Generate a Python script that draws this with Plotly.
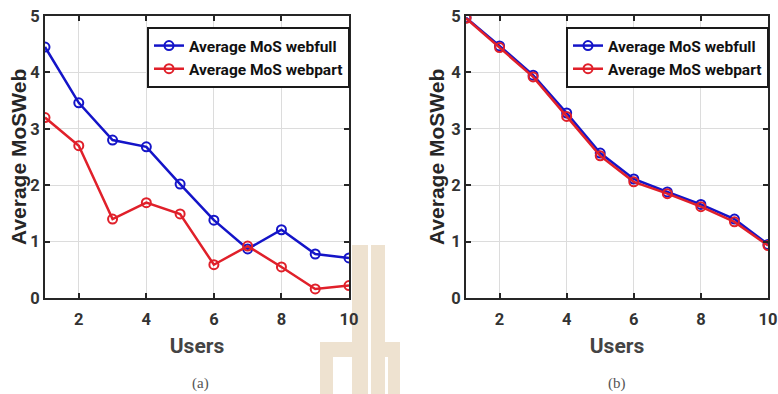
import plotly.graph_objects as go

# Number of users on the x axis
users = [1, 2, 3, 4, 5, 6, 7, 8, 9, 10]

# (a) average MoS per scheme
mos_webfull_a = [4.45, 3.46, 2.80, 2.68, 2.02, 1.38, 0.87, 1.21, 0.78, 0.71]
mos_webpart_a = [3.20, 2.70, 1.40, 1.69, 1.49, 0.59, 0.92, 0.55, 0.16, 0.22]

# (b) average MoS per scheme
mos_webfull_b = [4.97, 4.47, 3.95, 3.28, 2.57, 2.11, 1.88, 1.66, 1.40, 0.95]
mos_webpart_b = [4.96, 4.44, 3.92, 3.22, 2.52, 2.06, 1.85, 1.62, 1.35, 0.93]

x_ticks = [2, 4, 6, 8, 10]
y_ticks = [0, 1, 2, 3, 4, 5]
series_names = ["Average MoS webfull", "Average MoS webpart"]
panel_labels = ["(a)", "(b)"]
y_title = "Average MoSWeb"
x_title = "Users"

W, H = 778, 394
BLUE = "#1414C8"
RED = "#E0202A"
FRAME = "#262626"
NARROW = "Liberation Sans Narrow, Arial Narrow, Roboto, sans-serif"

fig = go.Figure()


def add_series(x, y, name, color, xaxis, yaxis, legend):
    fig.add_trace(go.Scatter(
        x=x, y=y, name=name, mode="lines+markers",
        line=dict(color=color, width=2.5),
        marker=dict(symbol="circle-open", size=9, color=color,
                    line=dict(width=2, color=color)),
        xaxis=xaxis, yaxis=yaxis, legend=legend,
    ))


add_series(users, mos_webfull_a, series_names[0], BLUE, "x", "y", "legend")
add_series(users, mos_webpart_a, series_names[1], RED, "x", "y", "legend")
add_series(users, mos_webfull_b, series_names[0], BLUE, "x2", "y2", "legend2")
add_series(users, mos_webpart_b, series_names[1], RED, "x2", "y2", "legend2")

tick_font = dict(family=NARROW, size=16.5, color="#333333", weight="bold")


def px_x(p):
    return p / W


def px_y(p):
    return 1 - p / H


xaxis_common = dict(
    range=[1, 10], tickvals=x_ticks, showgrid=True, gridcolor="#DCDCDC", gridwidth=1,
    showline=True, linecolor=FRAME, linewidth=2, mirror="ticks",
    ticks="inside", ticklen=5, tickwidth=1.5, tickcolor=FRAME,
    tickfont=tick_font, ticklabelstandoff=5,
    zeroline=False, automargin=False, fixedrange=True,
    title=dict(text=x_title, standoff=11,
               font=dict(family=NARROW, size=21, color="#444444", weight="bold")),
)
yaxis_common = dict(
    range=[0, 5], tickvals=y_ticks, showgrid=True, gridcolor="#DCDCDC", gridwidth=1,
    showline=True, linecolor=FRAME, linewidth=2, mirror="ticks",
    ticks="inside", ticklen=5, tickwidth=1.5, tickcolor=FRAME,
    tickfont=tick_font, zeroline=False, automargin=False, fixedrange=True,
)

legend_common = dict(
    bgcolor="white", bordercolor="#1A1A1A", borderwidth=2,
    font=dict(family=NARROW, size=15.5, color="#111111", weight="bold"),
    xanchor="left", yanchor="top", tracegroupgap=0, itemwidth=30,
)

# Watermark logo drawn behind everything
wm_color = "#EEE2D0"
wm_rects = [
    (320, 342, 333, 394),
    (320, 342, 367, 357),
    (352, 245, 368, 394),
    (371, 245, 385, 394),
    (371, 342, 400, 357),
    (388, 342, 400, 394),
]
shapes = [
    dict(type="rect", xref="paper", yref="paper",
         x0=px_x(a), x1=px_x(c), y0=px_y(d), y1=px_y(b),
         fillcolor=wm_color, line=dict(width=0), layer="below")
    for a, b, c, d in wm_rects
]

caption_font = dict(family="Liberation Serif, serif", size=15, color="#555555")
ytitle_font = dict(family="Liberation Sans, Arial, sans-serif", size=21,
                   color="#262626", weight="bold")


def text_at(text, x, y, font, angle=0):
    return dict(text=text, x=px_x(x), y=px_y(y), xref="paper", yref="paper",
                showarrow=False, font=font, textangle=angle,
                xanchor="center", yanchor="middle")


fig.update_layout(
    width=W, height=H,
    margin=dict(l=0, r=0, t=0, b=0),
    paper_bgcolor="white", plot_bgcolor="white",
    xaxis=dict(domain=[px_x(45), px_x(349)], anchor="y", **xaxis_common),
    yaxis=dict(domain=[px_y(298), px_y(16)], anchor="x", **yaxis_common),
    xaxis2=dict(domain=[px_x(466), px_x(768)], anchor="y2", **xaxis_common),
    yaxis2=dict(domain=[px_y(298), px_y(16)], anchor="x2", **yaxis_common),
    legend=dict(x=px_x(147), y=px_y(27), **legend_common),
    legend2=dict(x=px_x(566), y=px_y(27), **legend_common),
    shapes=shapes,
    annotations=[
        text_at(y_title, 19, 157, ytitle_font, -90),
        text_at(y_title, 437, 157, ytitle_font, -90),
        text_at(panel_labels[0], 200, 383, caption_font),
        text_at(panel_labels[1], 617, 383, caption_font),
    ],
)

fig.write_html("out.html")
